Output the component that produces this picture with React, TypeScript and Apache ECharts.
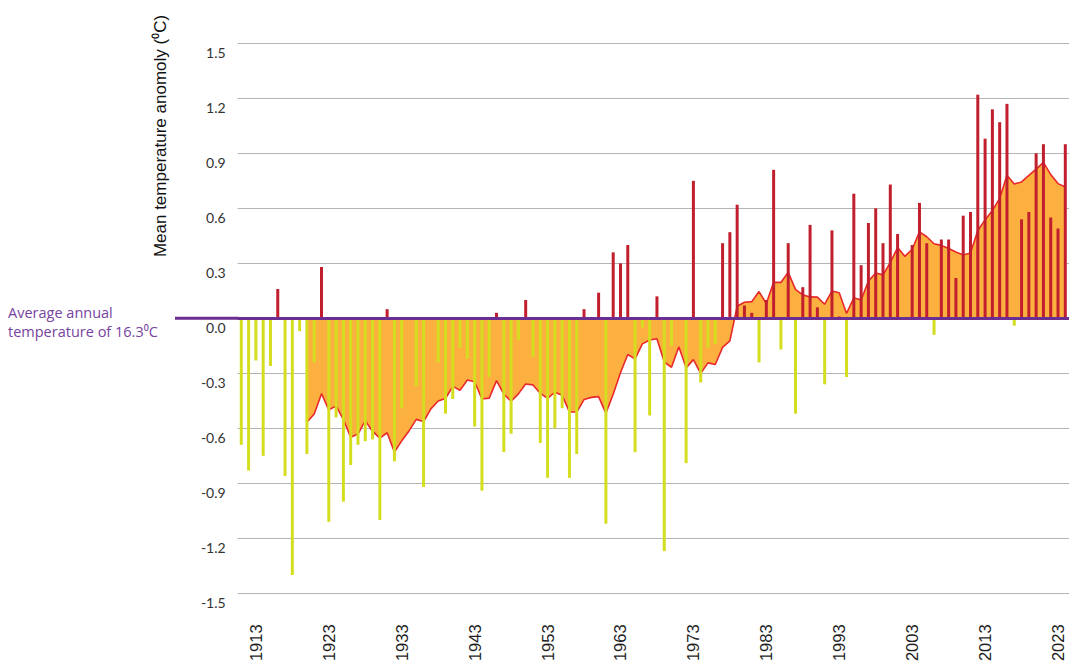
import React, { useEffect, useRef } from "react";
import * as echarts from "echarts";

// Annual mean temperature anomaly (°C), 1911–2024
const START_YEAR = 1911;
const anomalies: number[] = [
  -0.69, -0.83, -0.23, -0.75, -0.26, 0.16, -0.86, -1.40, -0.07, -0.74, // 1911-1920
  -0.24, 0.28, -1.11, -0.54, -1.00, -0.80, -0.69, -0.67, -0.66, -1.10, // 1921-1930
  0.05, -0.78, -0.49, 0.0, -0.37, -0.92, 0.0, -0.24, -0.52, -0.44, // 1931-1940
  -0.16, -0.22, -0.59, -0.94, -0.32, 0.03, -0.73, -0.63, -0.12, 0.10, // 1941-1950
  -0.21, -0.68, -0.87, -0.60, -0.49, -0.87, -0.74, 0.05, 0.0, 0.14, // 1951-1960
  -1.12, 0.36, 0.30, 0.40, -0.73, -0.05, -0.53, 0.12, -1.27, -0.15, // 1961-1970
  0.0, -0.79, 0.75, -0.35, -0.16, -0.14, 0.41, 0.47, 0.62, 0.07, // 1971-1980
  0.03, -0.24, 0.10, 0.81, -0.17, 0.41, -0.52, 0.17, 0.51, 0.06, // 1981-1990
  -0.36, 0.48, 0.01, -0.32, 0.68, 0.29, 0.52, 0.60, 0.41, 0.73, // 1991-2000
  0.46, 0.0, 0.40, 0.63, 0.41, -0.09, 0.43, 0.43, 0.22, 0.56, // 2001-2010
  0.58, 1.22, 0.98, 1.14, 1.07, 1.17, -0.04, 0.54, 0.58, 0.90, // 2011-2020
  0.95, 0.55, 0.49, 0.95, // 2021-2024
];

// 10-year average (°C), 1911–2024
const tenYearAverage: (number | null)[] = [
  null, null, null, null, null, null, null, null, null, -0.567, // 1911-1920
  -0.522, -0.411, -0.499, -0.478, -0.552, -0.648, -0.631, -0.558, -0.617, -0.653, // 1921-1930
  -0.624, -0.73, -0.668, -0.614, -0.551, -0.563, -0.494, -0.451, -0.437, -0.371, // 1931-1940
  -0.392, -0.336, -0.346, -0.44, -0.435, -0.34, -0.413, -0.452, -0.412, -0.358, // 1941-1950
  -0.363, -0.409, -0.437, -0.403, -0.42, -0.51, -0.511, -0.443, -0.431, -0.427, // 1951-1960
  -0.518, -0.414, -0.297, -0.197, -0.221, -0.139, -0.118, -0.111, -0.238, -0.267, // 1961-1970
  -0.155, -0.27, -0.225, -0.3, -0.243, -0.252, -0.158, -0.123, 0.066, 0.088, // 1971-1980
  0.091, 0.146, 0.081, 0.197, 0.196, 0.251, 0.158, 0.128, 0.117, 0.116, // 1981-1990
  0.077, 0.149, 0.14, 0.027, 0.112, 0.1, 0.204, 0.247, 0.237, 0.304, // 1991-2000
  0.386, 0.338, 0.377, 0.472, 0.445, 0.407, 0.398, 0.381, 0.362, 0.345, // 2001-2010
  0.357, 0.479, 0.537, 0.588, 0.654, 0.78, 0.733, 0.744, 0.78, 0.814, // 2011-2020
  0.851, 0.784, 0.735, 0.716, // 2021-2024
];

const years: string[] = anomalies.map((_, i) => String(START_YEAR + i));
const FIRST_LABEL_INDEX = 2; // 1913
const LABEL_STEP = 10;

const Y_MIN = -1.5;
const Y_MAX = 1.5;
const Y_STEP = 0.3;

const AXIS_TITLE = "Mean temperature anomoly (\u2070C)";
const BASELINE_NOTE = "Average annual\ntemperature of 16.3\u2070C";

const RED = "#c11f2e";
const YELLOW = "#d5dd1f";
const ORANGE = "#fbb040";
const LINE_RED = "#e8282b";
const PURPLE = "#6a2f90";
const PURPLE_TEXT = "#7742a0";

export default function App() {
  const ref = useRef<HTMLDivElement>(null);

  useEffect(() => {
    if (!ref.current) return;
    const chart = echarts.init(ref.current, null, { renderer: "svg" });
    const gridLeft = 237.65;
    chart.setOption({
      animation: false,
      grid: { left: gridLeft, right: 4.05, top: 43.35, bottom: 73.65, containLabel: false },
      xAxis: {
        type: "category",
        data: years,
        boundaryGap: true,
        axisLine: { show: false },
        axisTick: { show: false },
        splitLine: { show: false },
        axisLabel: {
          interval: (index: number) => (index - FIRST_LABEL_INDEX) % LABEL_STEP === 0,
          rotate: 90,
          margin: 31,
          fontSize: 16.5,
          color: "#1e1e1e",
          fontFamily: "Liberation Sans, Arial, sans-serif",
        },
      },
      yAxis: {
        type: "value",
        min: Y_MIN,
        max: Y_MAX,
        interval: Y_STEP,
        axisLine: { show: false },
        axisTick: { show: false },
        splitLine: { lineStyle: { color: "#b4b4b4", width: 1.2 } },
        axisLabel: {
          formatter: (v: number) => (Math.abs(v) < 1e-9 ? "0.0" : v.toFixed(1)),
          margin: 12,
          fontSize: 14,
          color: "#333333",
          fontFamily: "Lato, Noto Sans, sans-serif",
          verticalAlign: "top",
          padding: [2, 0, 0, 0],
        },
      },
      series: [
        {
          type: "line",
          data: tenYearAverage,
          symbol: "none",
          z: 1,
          lineStyle: { color: LINE_RED, width: 1.6 },
          areaStyle: { color: ORANGE, opacity: 1 },
        },
        {
          type: "bar",
          z: 2,
          barWidth: 3,
          data: anomalies.map((v) => ({
            value: v,
            itemStyle: { color: v >= 0 ? RED : YELLOW },
          })),
          markLine: {
            silent: true,
            symbol: "none",
            z: 5,
            label: { show: false },
            lineStyle: { color: PURPLE, width: 3, type: "solid" },
            data: [{ yAxis: 0 }],
          },
        },
      ],
    });

    const zeroY = chart.convertToPixel({ yAxisIndex: 0 }, 0) as number;
    chart.setOption({
      graphic: [
        {
          type: "text",
          x: 160,
          y: 136,
          rotation: Math.PI / 2,
          style: {
            text: AXIS_TITLE,
            fontSize: 17,
            fontFamily: "Liberation Sans, Arial, sans-serif",
            fill: "#111111",
            textAlign: "center",
            textVerticalAlign: "middle",
          },
        },
        {
          type: "text",
          x: 8,
          y: zeroY + 4,
          style: {
            text: BASELINE_NOTE,
            fontSize: 14.5,
            lineHeight: 19,
            fontFamily: "Open Sans, Noto Sans, sans-serif",
            fill: PURPLE_TEXT,
            textAlign: "left",
            textVerticalAlign: "middle",
          },
        },
        {
          type: "line",
          shape: { x1: 175, y1: zeroY, x2: gridLeft + 1, y2: zeroY },
          style: { stroke: PURPLE, lineWidth: 3 },
          z: 10,
        },
      ],
    });

    return () => chart.dispose();
  }, []);

  return (
    <div
      ref={ref}
      style={{ position: "absolute", left: 0, top: 0, width: 1073, height: 667 }}
    />
  );
}
